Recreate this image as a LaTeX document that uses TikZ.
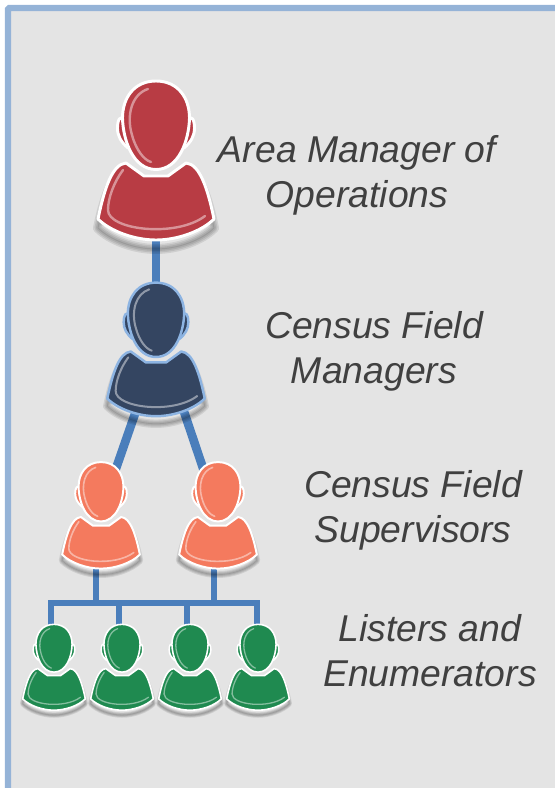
\documentclass[tikz,border=0pt]{standalone}
\usepackage{fontspec}
\setmainfont{Liberation Sans}
\usetikzlibrary{positioning, calc}

\definecolor{panelgray}{HTML}{E4E4E4}
\definecolor{framblue}{HTML}{95B3D7}
\definecolor{linkblue}{HTML}{4A7EBB}
\definecolor{labelgray}{HTML}{404040}
\definecolor{managerred}{HTML}{B83C44}
\definecolor{fieldnavy}{HTML}{344561}
\definecolor{navyedge}{HTML}{8DB4E2}
\definecolor{superorange}{HTML}{F47A5E}
\definecolor{listergreen}{HTML}{1F8A50}

% silhouette parts, drawn around the middle of the figure
\newcommand{\bodypath}{(-30,3) -- (-12,16) -- (12,16) -- (30,3)
    .. controls (44,4) and (52,30) .. (58,59)
    .. controls (46,71) and (22,80) .. (0,80)
    .. controls (-22,80) and (-46,71) .. (-58,59)
    .. controls (-52,30) and (-44,4) .. (-30,3) -- cycle}
\newcommand{\headpath}{(0,-79) .. controls (22,-79) and (33.5,-62) .. (33.5,-42)
    .. controls (33,-20) and (23,9.5) .. (0,9.5)
    .. controls (-23,9.5) and (-33,-20) .. (-33.5,-42)
    .. controls (-33.5,-62) and (-22,-79) .. (0,-79) -- cycle}
\newcommand{\earpath}{(30,-40) .. controls (36,-46) and (38.5,-40) .. (38.5,-32)
    .. controls (38.5,-24) and (35,-18) .. (28,-12) -- cycle
    (-30,-40) .. controls (-36,-46) and (-38.5,-40) .. (-38.5,-32)
    .. controls (-38.5,-24) and (-35,-18) .. (-28,-12) -- cycle}

% \person{coordinate}{scale}{fill}{edge}
\newcommand{\person}[4]{
    \begin{scope}[shift={(#1)}, scale=#2]
        \foreach \blur in {10,7,4,1}
            \draw[black, opacity=0.09, line width=#2*\blur*0.75pt, line join=round]
                [shift={(0,9)}] \bodypath;
        \draw[fill=#3, draw=#4, line width=#2*2.2pt, line join=round] \bodypath;
        \draw[fill=#3, draw=#4, line width=#2*2.2pt, line join=round] \earpath;
        \draw[fill=#3, draw=#4, line width=#2*2.2pt] \headpath;
        % glare
        \draw[white, opacity=0.45, line width=#2*1.8pt, line cap=round]
            (-8,-71) .. controls (-24,-66) and (-30,-45) .. (-24,-25)
            .. controls (-20,-10) and (-12,0) .. (-5,2);
        \draw[white, opacity=0.45, line width=#2*1.8pt, line cap=round]
            (-33,10) .. controls (-42,22) and (-48,38) .. (-48,50)
            .. controls (-48,70) and (20,78) .. (49,56);
    \end{scope}
}

\begin{document}
\begin{tikzpicture}[
    x=0.75pt,
    y=-0.75pt,
    % Styles
    link/.style={
        draw=linkblue,
        line width=6.5pt
    },
    smalllink/.style={
        draw=linkblue,
        line width=4.2pt,
        line cap=rect
    },
    rolelabel/.style={
        font=\itshape\fontsize{28}{33.75}\selectfont,
        text=labelgray,
        align=center,
        inner sep=0pt
    }
]
    \useasboundingbox (0,0) rectangle (555,788);

    % Panel
    \fill[panelgray] (8,8) rectangle (555,788);
    \draw[framblue, line width=4.8pt, rounded corners=1pt] (8,788) -- (8,8) -- (555,8);

    % People
    \coordinate (manager) at (156,225);
    \coordinate (fieldtop) at (156,300);
    \coordinate (fieldA) at (145,385);
    \coordinate (fieldB) at (175,385);
    \coordinate (superA) at (112,480);
    \coordinate (superB) at (207,480);
    \coordinate (superAfoot) at (96,550);
    \coordinate (superBfoot) at (214,550);
    \coordinate (bus) at (0,603);
    \coordinate (dropA) at (51,640);
    \coordinate (dropB) at (119,640);
    \coordinate (dropC) at (187,640);
    \coordinate (dropD) at (257,640);

    % Labels
    \node[rolelabel] (managerlabel) at (357,175) {Area Manager of\\Operations};
    \node[rolelabel] (fieldlabel) at (374,351) {Census Field\\Managers};
    \node[rolelabel] (superlabel) at (413,510) {Census Field\\Supervisors};
    \node[rolelabel] (listerlabel) at (430,651) {Listers and\\Enumerators};

    % Paths
    \draw[link] (manager) -- (fieldtop);
    \draw[link] (fieldA) -- (superA);
    \draw[link] (fieldB) -- (superB);
    \draw[smalllink] (superAfoot) -- (superAfoot |- bus);
    \draw[smalllink] (superBfoot) -- (superBfoot |- bus);
    \draw[smalllink] (dropA) -- (dropA |- bus) -- (dropD |- bus) -- (dropD);
    \draw[smalllink] (dropB) -- (dropB |- bus);
    \draw[smalllink] (dropC) -- (dropC |- bus);

    % Figures
    \person{156,160}{1}{managerred}{white}
    \person{156,349}{0.84}{fieldnavy}{navyedge}
    \person{101,515}{0.67}{superorange}{white}
    \person{218,515}{0.67}{superorange}{white}
    \person{54,667}{0.54}{listergreen}{white}
    \person{122,667}{0.54}{listergreen}{white}
    \person{190,667}{0.54}{listergreen}{white}
    \person{258,667}{0.54}{listergreen}{white}
\end{tikzpicture}
\end{document}
